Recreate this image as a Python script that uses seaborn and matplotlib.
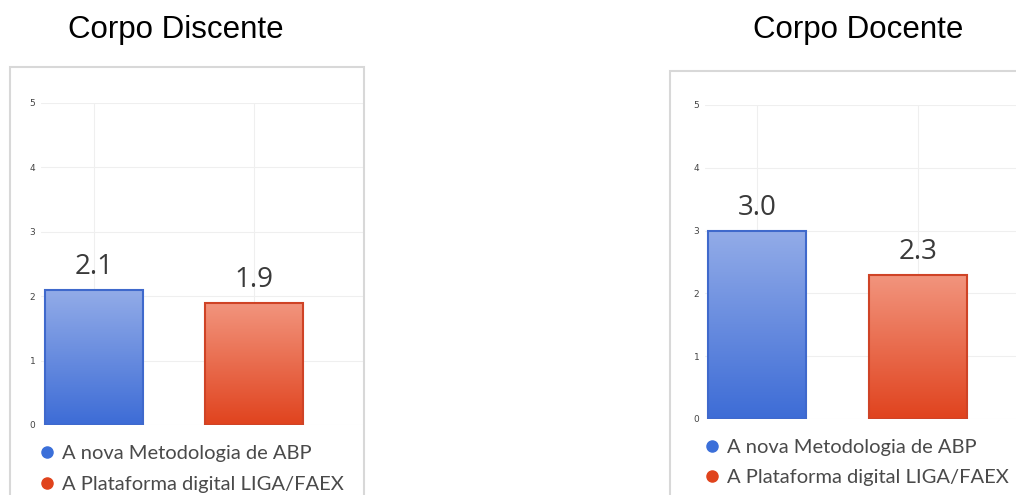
import numpy as np
import pandas as pd
import seaborn as sns
import matplotlib.pyplot as plt
from matplotlib.patches import Rectangle
from matplotlib.lines import Line2D
from matplotlib.colors import to_rgb

# Dados
grupos = ["Corpo Discente", "Corpo Docente"]
itens = ["A nova Metodologia de ABP", "A Plataforma digital LIGA/FAEX"]
discente = [2.1, 1.9]
docente = [3.0, 2.3]
yticks = [0, 1, 2, 3, 4, 5]

# Cores (topo / base do degradê, borda, marcador da legenda)
topo = ["#93ace8", "#f2957e"]
base = ["#3d6cd6", "#e0431e"]
borda = ["#3f69cc", "#cf4326"]
marcador = ["#3b6fd9", "#e0431c"]

W, H = 1016, 495


def px(x0, y0, x1, y1):
    # caixa em pixels (origem no topo) -> fração da figura
    return [x0 / W, 1 - y1 / H, (x1 - x0) / W, (y1 - y0) / H]


sns.set_style("white")
plt.rcParams['font.family'] = ['DejaVu Sans']

fig = plt.figure(figsize=(W / 100, H / 100), dpi=100)

# layout de cada painel: eixo, limites x, caixa, título, legenda
paineis = [
    dict(valores=discente, eixo=(41, 103, 363, 425), xlim=(-0.331, 1.681),
         caixa=(10, 67, 364, 505), titulo=176, leg=(40.5, 445), esp=0.7),
    dict(valores=docente, eixo=(705, 105, 1016, 419), xlim=(-0.323, 1.609),
         caixa=(670, 71, 1030, 505), titulo=858, leg=(705.5, 439), esp=0.62),
]

for grupo, p in zip(grupos, paineis):
    x0, y0, x1, y1 = p["caixa"]
    fig.add_artist(Rectangle((x0 / W, 1 - y1 / H), (x1 - x0) / W, (y1 - y0) / H,
                             transform=fig.transFigure, fill=False,
                             edgecolor="#d8d8d8", linewidth=1.5))
    fig.text(p["titulo"] / W, 1 - 38 / H, grupo, ha="center", va="baseline",
             fontsize=22.5, family="Liberation Sans", color="black")

    ax = fig.add_axes(px(*p["eixo"]))
    df = pd.DataFrame({"item": itens, "nota": p["valores"]})
    sns.barplot(data=df, x="item", y="nota", hue="item", palette=topo,
                width=0.61, legend=False, ax=ax)

    # degradê vertical dentro de cada barra
    t = np.linspace(0, 1, 256)[:, None]
    for i, bar in enumerate(ax.patches):
        c0, c1 = np.array(to_rgb(topo[i])), np.array(to_rgb(base[i]))
        img = (c0 * (1 - t) + c1 * t)[:, None, :]
        bx, bw, bh = bar.get_x(), bar.get_width(), bar.get_height()
        ax.imshow(img, extent=[bx, bx + bw, 0, bh], aspect="auto",
                  origin="upper", zorder=3)
        bar.set_facecolor("none")
        bar.set_edgecolor(borda[i])
        bar.set_linewidth(1.5)
        bar.set_zorder(4)

    for cont in ax.containers:
        ax.bar_label(cont, fmt="%.1f", padding=6, fontsize=20,
                     family="Open Sans", color="#3a3a3a")

    ax.set_xlim(*p["xlim"])
    ax.set_ylim(0, 5)
    ax.set_yticks(yticks)
    ax.set_xticks([0, 1])
    ax.set_xticklabels([])
    ax.set_xlabel("")
    ax.set_ylabel("")
    ax.grid(True, color="#efefef", linewidth=0.8)
    ax.set_axisbelow(True)
    ax.tick_params(axis="both", length=0)
    ax.tick_params(axis="y", labelsize=6.5, pad=4, labelcolor="#444444")
    for s in ax.spines.values():
        s.set_visible(False)

    handles = [Line2D([], [], ls="", marker="o", ms=8, color=c) for c in marcador]
    lx, ly = p["leg"]
    ax.legend(handles, itens, loc="upper left", bbox_to_anchor=(lx / W, 1 - ly / H),
              bbox_transform=fig.transFigure, frameon=False, handlelength=0.65,
              handletextpad=0.4, borderpad=0, borderaxespad=0, labelspacing=p["esp"],
              prop={"family": "Lato", "size": 14.5}, labelcolor="#4a4a4a")

fig.savefig("out.png", dpi=100)
